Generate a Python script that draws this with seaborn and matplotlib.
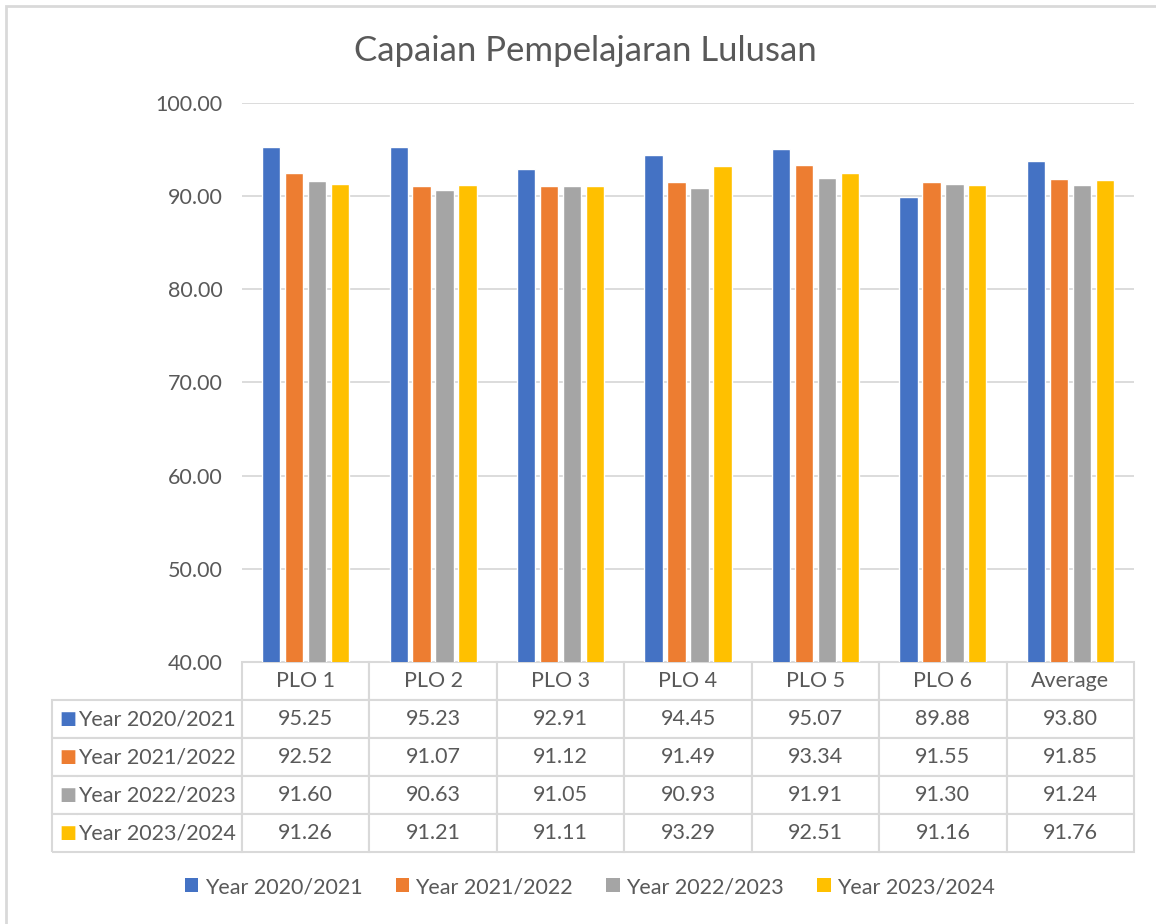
import matplotlib
matplotlib.use("Agg")
import matplotlib.pyplot as plt
from matplotlib.patches import Patch, Rectangle
import pandas as pd
import seaborn as sns

plos = ['PLO 1', 'PLO 2', 'PLO 3', 'PLO 4', 'PLO 5', 'PLO 6', 'Average']
years = ['Year 2020/2021', 'Year 2021/2022', 'Year 2022/2023', 'Year 2023/2024']
y2020 = [95.25, 95.23, 92.91, 94.45, 95.07, 89.88, 93.80]
y2021 = [92.52, 91.07, 91.12, 91.49, 93.34, 91.55, 91.85]
y2022 = [91.60, 90.63, 91.05, 90.93, 91.91, 91.30, 91.24]
y2023 = [91.26, 91.21, 91.11, 93.29, 92.51, 91.16, 91.76]
colors = ['#4472C4', '#ED7D31', '#A5A5A5', '#FFC000']

series = [y2020, y2021, y2022, y2023]
df = pd.DataFrame(
    [(p, yr, v) for yr, vals in zip(years, series) for p, v in zip(plos, vals)],
    columns=['plo', 'year', 'value'],
)

sns.set_style("white")
plt.rcParams['font.family'] = ['Lato', 'DejaVu Sans']
text_col = '#595959'
grid_col = '#D9D9D9'
fs = 15.5

W, H = 1156, 924
fig = plt.figure(figsize=(W / 100, H / 100), dpi=100)
ax_l, ax_r, ax_t, ax_b = 242, 1134, 103, 662
ax = fig.add_axes([ax_l / W, 1 - ax_b / H, (ax_r - ax_l) / W, (ax_b - ax_t) / H])

sns.barplot(data=df, x='plo', y='value', hue='year', palette=colors,
            width=0.72, gap=0.2, ax=ax, legend=False, saturation=1)

ax.set_ylim(40, 100)
ax.set_yticks(range(40, 101, 10))
ax.set_yticklabels([f'{t:.2f}' for t in range(40, 101, 10)])
ax.set_xlim(-0.5, len(plos) - 0.5)
ax.set_xlabel('')
ax.set_ylabel('')
ax.set_xticks([])
ax.yaxis.grid(True, color=grid_col, lw=1.3)
ax.set_axisbelow(True)
for s in ax.spines.values():
    s.set_visible(False)
ax.tick_params(axis='y', length=0, pad=14, labelsize=fs, labelcolor=text_col)

# data table under the plot
cells = [['', ''] + plos]
for yr, vals in zip(years, series):
    cells.append(['\u25A0', yr] + [f'{v:.2f}' for v in vals])

tab_l, tab_b = 52, 852
plot_w = ax_r - ax_l
plot_h = ax_b - ax_t
col_w = [26, 164] + [plot_w / len(plos)] * len(plos)
tbl = ax.table(cellText=cells, colWidths=col_w, cellLoc='center',
               bbox=[(tab_l - ax_l) / plot_w, -(tab_b - ax_b) / plot_h,
                     (ax_r - tab_l) / plot_w, (tab_b - ax_b) / plot_h])
tbl.auto_set_font_size(False)
tbl.set_fontsize(fs)
for (r, c), cell in tbl.get_celld().items():
    cell.set_edgecolor(grid_col)
    cell.set_linewidth(1.5)
    cell.get_text().set_color(text_col)
    if r == 0 and c < 2:
        cell.visible_edges = ''
    elif c == 0:
        cell.visible_edges = 'BLT'
        cell.get_text().set_color(colors[r - 1])
        cell.get_text().set_fontsize(13)
        cell.get_text().set_family('DejaVu Sans')
        cell.get_text().set_ha('right')
        cell.PAD = 0.05
    elif c == 1:
        cell.visible_edges = 'BRT'
        cell.get_text().set_ha('left')
        cell.PAD = 0.0

fig.text(585 / W, 1 - 51 / H, 'Capaian Pempelajaran Lulusan', ha='center', va='center',
         fontsize=25, color=text_col)

handles = [Patch(facecolor=c, edgecolor='none', label=y) for c, y in zip(colors, years)]
fig.legend(handles=handles, loc='center', bbox_to_anchor=(590 / W, 1 - 887 / H), ncol=4,
           frameon=False, fontsize=fs, handlelength=0.62, handleheight=0.62,
           handletextpad=0.3, columnspacing=1.55, labelcolor=text_col)

# outer chart border
fig.add_artist(Rectangle((6 / W, -0.1), 1.2, 1.1 - 6 / H, transform=fig.transFigure,
                         fill=False, edgecolor=grid_col, lw=2))

fig.savefig('out.png', dpi=100)
